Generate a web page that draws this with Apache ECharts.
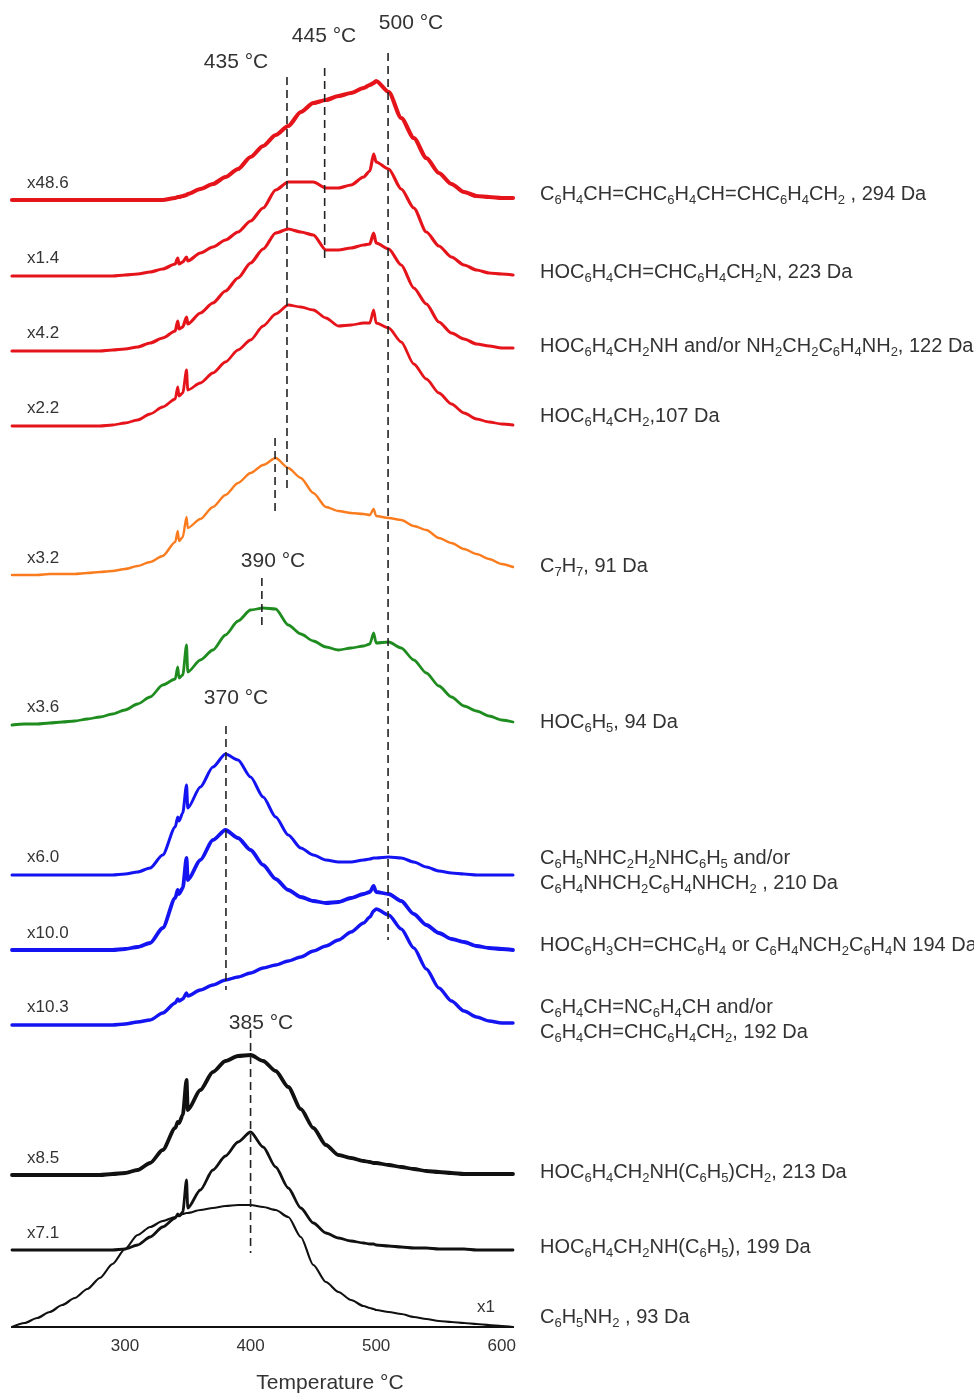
<!DOCTYPE html>
<html>
<head>
<meta charset="utf-8">
<script src="https://cdn.jsdelivr.net/npm/echarts@6/dist/echarts.min.js"></script>
<style>html,body{margin:0;padding:0;background:#fff}#chart{width:974px;height:1394px}</style>
</head>
<body>
<div id="chart"></div>
<script>
// ---------------- DATA ----------------
const temps = [210,220,230,240,250,260,270,280,290,300,310,320,330,340,342,343,346,349,350,360,370,380,390,400,410,420,430,440,450,460,470,480,490,495,498,500,510,520,530,540,550,560,570,580,590,600,609];

const s294 = [0,0,0,0,0,0,0,0,0,0,0,0,0,2,3,3,4,5,6,11,16,23,31,43,54,65,74,88,97,100,104,107,112,115,117,119,108,82,62,42,27,16,8,4,3,2,2];
const s223 = [0,0,0,0,0,0,0,0,0,1,2,4,7,12,18,12,14,19,15,23,29,36,44,55,68,86,94,94,94,88,88,91,99,105,122,114,107,87,68,44,30,19,11,6,3,2,1];
const s122 = [0,0,0,0,0,0,0,0,1,2,4,8,13,20,30,22,24,34,27,38,48,60,73,88,102,118,122,119,116,101,101,103,106,107,118,108,102,86,63,47,29,18,12,7,5,3,3];
const s107 = [0,0,0,0,0,0,0,0,1,3,6,12,19,27,39,30,33,56,36,43,53,64,76,86,100,112,121,119,116,108,100,101,103,103,116,103,98,84,62,47,33,22,13,7,4,2,1];
const s91  = [0,0,0,1,1,1,2,3,4,6,9,13,19,33,44,34,38,58,47,56,68,80,92,102,110,117,107,97,82,68,64,62,61,60,66,59,57,55,49,45,37,32,26,21,16,11,8];
const s94  = [0,1,1,2,3,4,6,8,11,15,21,28,40,46,58,47,50,80,53,65,75,90,104,115,117,116,100,91,84,78,75,77,79,81,92,82,83,77,65,52,39,28,19,14,9,5,3];
const s210 = [0,0,0,0,0,0,0,0,0,1,3,7,20,48,58,54,62,90,67,88,108,121,115,98,78,58,40,27,20,15,13,13,15,16,17,17,18,17,13,8,4,2,1,0,0,0,0];
const s194 = [0,0,0,0,0,0,0,0,0,1,3,7,22,52,60,56,62,92,70,90,110,120,112,100,85,71,60,53,49,47,48,52,56,58,64,58,56,49,36,25,17,11,8,4,2,1,0];
const s192 = [0,0,0,0,0,0,0,0,0,1,3,5,12,22,26,24,26,32,29,35,40,45,48,52,57,60,64,68,74,79,85,93,102,108,114,116,110,96,77,56,37,24,14,8,4,2,2];
const s213 = [0,0,0,0,0,0,0,0,1,2,5,12,25,47,53,52,60,95,65,85,103,114,119,120,114,104,88,66,47,30,20,17,14,13,12,12,10,8,6,4,3,2,1,1,1,1,1];
const s199 = [0,0,0,0,0,0,0,0,0,1,5,13,23,32,36,34,38,70,42,60,80,94,108,118,103,83,62,42,27,17,12,9,7,6,6,5,4,3,2,2,1,1,1,0,0,0,0];
const s93  = [0,4,9,15,22,29,38,49,63,78,92,100,106,110,111,111,113,114,114,117,119,121,122,122,120,117,110,90,62,45,35,27,21,19,18,17,15,13,10,8,6,5,4,3,2,1,0];

const multipliers = ['x48.6','x1.4','x4.2','x2.2','x3.2','x3.6','x6.0','x10.0','x10.3','x8.5','x7.1','x1'];
const formulas = [
  'C_6H_4CH=CHC_6H_4CH=CHC_6H_4CH_2 , 294 Da',
  'HOC_6H_4CH=CHC_6H_4CH_2N, 223 Da',
  'HOC_6H_4CH_2NH and/or NH_2CH_2C_6H_4NH_2, 122 Da',
  'HOC_6H_4CH_2,107 Da',
  'C_7H_7, 91 Da',
  'HOC_6H_5, 94 Da',
  'C_6H_5NHC_2H_2NHC_6H_5 and/or\nC_6H_4NHCH_2C_6H_4NHCH_2 , 210 Da',
  'HOC_6H_3CH=CHC_6H_4 or C_6H_4NCH_2C_6H_4N 194 Da',
  'C_6H_4CH=NC_6H_4CH and/or\nC_6H_4CH=CHC_6H_4CH_2, 192 Da',
  'HOC_6H_4CH_2NH(C_6H_5)CH_2, 213 Da',
  'HOC_6H_4CH_2NH(C_6H_5), 199 Da',
  'C_6H_5NH_2 , 93 Da'
];
const seriesValues = [s294,s223,s122,s107,s91,s94,s210,s194,s192,s213,s199,s93];

const peakTemps  = [429, 459, 509.5, 419.5, 409, 380.4, 400];
const peakLabels = ['435 °C','445 °C','500 °C','','390 °C','370 °C','385 °C'];
const axisTitle = 'Temperature °C';

// ---------------- LAYOUT / STYLE ----------------
const RED='#e5141b', ORANGE='#fa7c1e', GREEN='#1f8c1f', BLUE='#1414f2', BLACK='#111111';
const colors  = [RED,RED,RED,RED,ORANGE,GREEN,BLUE,BLUE,BLUE,BLACK,BLACK,BLACK];
const widths  = [4.2,3.2,3.2,2.8,2.4,2.8,3,3.8,3.4,3.8,2.8,2.2];
const offsets = [1127,1051,976,901,752,602,452,377,302,152,77,0];
const multPos = [[27,183],[27,258],[27,333],[27,408],[27,558],[27,707],[27,857],[27,933],[27,1007],[27,1158],[27,1233],[477,1307]];
const formulaY = [194,272,346,416,566,722,871,945,1020,1172,1247,1317];
const dashSpan = [[1250,837],[1259,1064],[1274,387],[889,812],[749,699],[601,337],[297,74]];
const peakLabelPos = [[236,62],[324,36],[411,23],null,[273,561],[236,698],[261,1023]];
const FONT = '"Liberation Sans", Arial, sans-serif';
const TXT = '#333';

function chem(str){
  return str.split('\n').map(line =>
    line.split(/(_\d)/).filter(p => p.length).map(p =>
      p[0] === '_' ? '{s|' + p[1] + '}' : '{n|' + p + '}'
    ).join('')
  ).join('\n');
}

const series = [];
seriesValues.forEach((vals, i) => {
  series.push({
    type: 'line',
    name: formulas[i],
    data: temps.map((t, k) => [t, offsets[i] + vals[k]]),
    showSymbol: false, symbol: 'none',
    smooth: 0.25, smoothMonotone: 'x',
    lineStyle: { color: colors[i], width: widths[i], join: 'round', cap: 'round' },
    silent: true, animation: false, z: 2
  });
});
peakTemps.forEach((t, i) => {
  series.push({
    type: 'line',
    data: [[t, dashSpan[i][0]], [t, dashSpan[i][1]]],
    showSymbol: false, symbol: 'none',
    lineStyle: { color: '#222', width: 1.6, type: [8, 5] },
    silent: true, animation: false, z: 5
  });
});

const graphics = [];
multipliers.forEach((m, i) => {
  graphics.push({ type: 'text', x: multPos[i][0], y: multPos[i][1], silent: true,
    style: { text: m, fontFamily: FONT, fontSize: 17, fill: TXT, align: 'left', verticalAlign: 'middle' } });
});
formulas.forEach((f, i) => {
  graphics.push({ type: 'text', x: 540, y: formulaY[i], silent: true,
    style: { text: chem(f), align: 'left', verticalAlign: 'middle', fontFamily: FONT, fontSize: 20, fill: TXT,
      rich: {
        n: { fontFamily: FONT, fontSize: 20, lineHeight: 25, fill: TXT },
        s: { fontFamily: FONT, fontSize: 13, lineHeight: 13, fill: TXT, verticalAlign: 'bottom' }
      } } });
});
peakLabels.forEach((l, i) => {
  if (!l) return;
  graphics.push({ type: 'text', x: peakLabelPos[i][0], y: peakLabelPos[i][1], silent: true,
    style: { text: l, fontFamily: FONT, fontSize: 21, fill: TXT, align: 'center', verticalAlign: 'middle' } });
});
graphics.push({ type: 'text', x: 330, y: 1383, silent: true,
  style: { text: axisTitle, fontFamily: FONT, fontSize: 21, fill: TXT, align: 'center', verticalAlign: 'middle' } });

const chart = echarts.init(document.getElementById('chart'), null, { renderer: 'canvas' });
chart.setOption({
  animation: false,
  backgroundColor: '#ffffff',
  grid: { left: 12, right: 461, top: 10, bottom: 67 },
  xAxis: {
    type: 'value', min: 210, max: 609, interval: 10,
    axisLine: { show: true, lineStyle: { color: BLACK, width: 2 } },
    axisTick: { show: false },
    splitLine: { show: false },
    axisLabel: { fontFamily: FONT, fontSize: 17, color: TXT, margin: 11,
      formatter: v => (v % 100 === 0 ? String(v) : '') }
  },
  yAxis: { type: 'value', min: 0, max: 1317, show: false, splitLine: { show: false } },
  series: series,
  graphic: graphics
});
</script>
</body>
</html>
